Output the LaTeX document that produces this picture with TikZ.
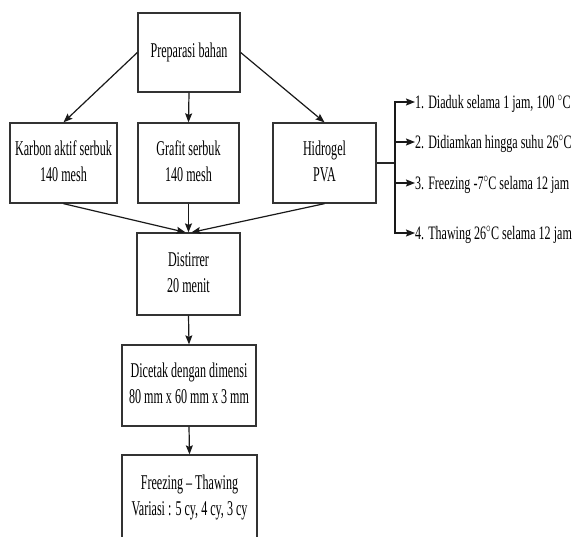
\documentclass[tikz,border=0pt]{standalone}
\usepackage{fontspec}
\setmainfont{Liberation Serif}
\usepackage{graphicx}
\usetikzlibrary{arrows.meta,calc}
\newcommand{\bxtxt}[1]{\scalebox{0.576}[1]{\begin{tabular}{@{}c@{}}#1\end{tabular}}}
\newcommand{\sidetxt}[1]{\scalebox{0.635}[1]{#1}}
\begin{document}
\begin{tikzpicture}[x=1pt,y=-1pt,
  box/.style={draw=black!80,line width=1.3pt,inner sep=0pt,font=\fontsize{21}{26}\selectfont},
  side/.style={inner sep=0pt,anchor=base west,font=\fontsize{19}{23}\selectfont},
  arr/.style={draw=black!90,line width=1.2pt,-{Stealth[length=9pt,width=7pt,inset=1.5pt]}},
  ln/.style={draw=black!85,line width=1.2pt}]
\useasboundingbox (0,0) rectangle (572,536);
\clip (0,0) rectangle (572,536);
\node[box,minimum width=102pt,minimum height=79pt] (prep) at (189,52.5) {\bxtxt{Preparasi bahan}};
\node[box,minimum width=107pt,minimum height=80pt] (karbon) at (63.5,163) {\bxtxt{Karbon aktif serbuk\\140 mesh}};
\node[box,minimum width=101pt,minimum height=80pt] (grafit) at (188.5,163) {\bxtxt{Grafit serbuk\\140 mesh}};
\node[box,minimum width=103pt,minimum height=80pt] (hidro) at (324.5,163) {\bxtxt{Hidrogel\\PVA}};
\node[box,minimum width=103pt,minimum height=82pt] (dist) at (188.5,274) {\bxtxt{Distirrer\\20 menit}};
\node[box,minimum width=134pt,minimum height=81pt] (dicetak) at (189,385.5) {\bxtxt{Dicetak dengan dimensi\\80 mm x 60 mm x 3 mm}};
\node[box,minimum width=135pt,minimum height=84pt] (freez) at (189.5,497) {\bxtxt{Freezing -- Thawing\\Variasi : 5 cy, 4 cy, 3 cy}};

\node[side] (s1) at (415,108) {\sidetxt{1. Diaduk selama 1 jam, 100 $^{\circ}$C}};
\node[side] (s2) at (415,148) {\sidetxt{2. Didiamkan hingga suhu 26$^{\circ}$C}};
\node[side] (s3) at (415,189) {\sidetxt{3. Freezing -7$^{\circ}$C selama 12 jam}};
\node[side] (s4) at (415,239) {\sidetxt{4. Thawing 26$^{\circ}$C selama 12 jam}};
\coordinate (j) at (395,163);
\coordinate (t1) at (415,102);
\coordinate (t2) at (415,142);
\coordinate (t3) at (415,183);
\coordinate (t4) at (415,233);

\draw[arr] (prep.west) -- (karbon.north);
\draw[arr] (prep.south) -- (grafit.north);
\draw[arr] (prep.east) -- (hidro.north);
\draw[arr] (karbon.south) -- ([xshift=-3pt]dist.north);
\draw[arr] (grafit.south) -- (dist.north);
\draw[arr] (hidro.south) -- ([xshift=3pt]dist.north);
\draw[arr] (dist.south) -- (dicetak.north);
\draw[arr] (dicetak.south) -- (freez.north);

\draw[ln] (hidro.east) -- (j);
\draw[arr] (j) |- (t1);
\draw[arr] (j) |- (t2);
\draw[arr] (j) |- (t3);
\draw[arr] (j) |- (t4);
\end{tikzpicture}
\end{document}
